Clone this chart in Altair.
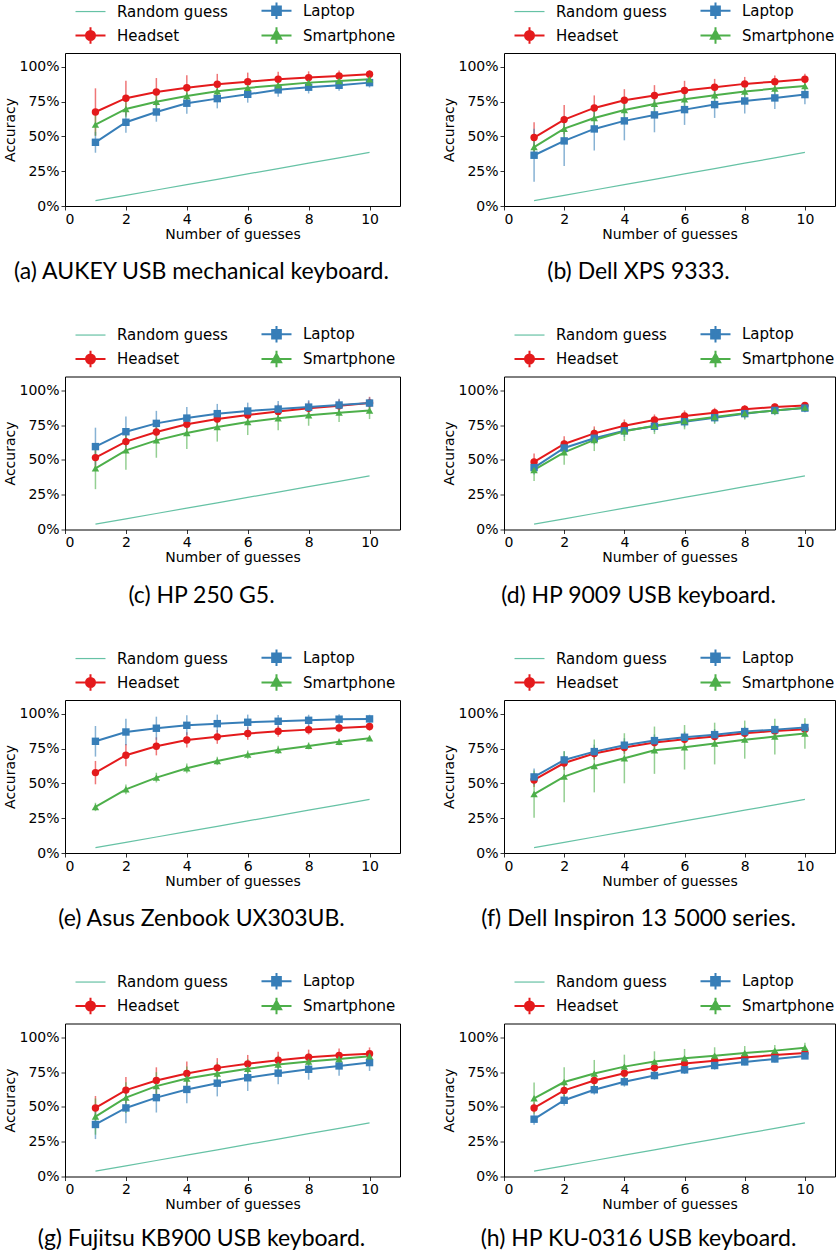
import altair as alt
import pandas as pd

guesses = [1, 2, 3, 4, 5, 6, 7, 8, 9, 10]
random_guess = [3.8, 7.7, 11.5, 15.4, 19.2, 23.1, 26.9, 30.8, 34.6, 38.5]

captions = [
    "(a) AUKEY USB mechanical keyboard.",
    "(b) Dell XPS 9333.",
    "(c) HP 250 G5.",
    "(d) HP 9009 USB keyboard.",
    "(e) Asus Zenbook UX303UB.",
    "(f) Dell Inspiron 13 5000 series.",
    "(g) Fujitsu KB900 USB keyboard.",
    "(h) HP KU-0316 USB keyboard.",
]

headset_mean = [
    [67.6, 77.5, 82.0, 85.0, 87.5, 89.4, 91.1, 92.3, 93.5, 94.7],
    [49.2, 62.1, 70.5, 76.0, 79.4, 83.0, 85.4, 87.8, 89.4, 91.1],
    [51.7, 63.2, 70.1, 75.6, 79.4, 82.3, 84.9, 87.1, 89.0, 90.9],
    [48.6, 61.5, 69.1, 74.6, 78.7, 81.6, 84.0, 86.4, 88.1, 89.2],
    [57.8, 70.3, 76.7, 81.3, 83.5, 85.9, 87.5, 88.7, 89.9, 90.9],
    [52.5, 64.7, 71.5, 75.8, 79.4, 81.8, 83.7, 86.1, 87.8, 89.0],
    [49.3, 62.1, 69.0, 74.0, 78.1, 81.0, 83.6, 85.7, 87.1, 88.3],
    [49.3, 61.9, 69.0, 74.3, 78.1, 81.2, 83.3, 85.5, 87.4, 88.8],
]
headset_err = [
    [17, 12.5, 10, 9, 7.5, 6.5, 5.5, 4.5, 4, 3],
    [11, 10.5, 9, 8, 7.5, 7, 6, 5, 4.5, 4],
    [8, 7, 7, 6, 6, 5, 5, 5, 4.5, 4.5],
    [6, 5.5, 5, 4.5, 4, 4, 3.5, 3, 2.5, 2.5],
    [8.4, 8, 6.5, 5.5, 5, 4.5, 4, 3.5, 3, 3],
    [5, 5, 4.5, 4.5, 4, 4, 3.5, 3.5, 3, 3],
    [8.6, 9.5, 9.5, 8.6, 7, 6.4, 6, 5.5, 5, 4.5],
    [4, 4, 4, 4, 3.5, 3.5, 3, 3, 2.5, 2.5],
]
laptop_mean = [
    [45.8, 60.2, 67.6, 73.9, 77.2, 80.3, 83.5, 85.4, 86.8, 88.7],
    [36.5, 46.8, 55.4, 61.2, 65.5, 69.3, 72.9, 75.5, 77.7, 80.1],
    [59.6, 70.3, 76.3, 80.1, 83.3, 85.2, 86.6, 88.0, 89.5, 90.9],
    [44.5, 58.6, 65.6, 71.0, 74.2, 77.5, 80.4, 83.3, 85.6, 87.3],
    [80.3, 87.0, 89.7, 91.8, 93.0, 94.0, 94.7, 95.4, 96.2, 96.4],
    [54.7, 66.9, 72.9, 77.5, 80.8, 83.2, 85.1, 87.3, 88.7, 90.2],
    [37.4, 49.3, 56.7, 62.6, 67.1, 71.0, 74.3, 77.1, 79.5, 81.9],
    [41.2, 54.8, 62.4, 68.1, 72.6, 76.7, 79.8, 82.4, 84.5, 86.7],
]
laptop_err = [
    [7.5, 7.5, 7, 7.5, 7, 6, 5, 4.5, 4, 3.5],
    [19, 18, 15.5, 14, 12.5, 11, 9.6, 9, 8, 7],
    [13.6, 11, 9, 8, 7, 6, 5.7, 5, 4.5, 4],
    [5, 5, 4.5, 4.5, 4, 4, 3.5, 3.5, 3, 3],
    [11, 9.6, 8.3, 7.2, 6.5, 5.5, 4.5, 4, 3.5, 3],
    [6, 6, 5, 5, 4.5, 4, 4, 3.5, 3, 3],
    [10.5, 11, 10.7, 10, 9.5, 9.5, 8, 7.5, 7, 6],
    [4, 4, 3.5, 3.5, 3, 3, 3, 2.5, 2.5, 2],
]
smartphone_mean = [
    [58.5, 69.8, 75.0, 79.1, 82.5, 84.9, 86.8, 88.7, 89.9, 91.1],
    [42.4, 55.6, 63.3, 69.0, 73.4, 76.7, 79.6, 82.3, 84.4, 86.3],
    [44.0, 56.9, 64.1, 69.4, 73.7, 77.3, 79.9, 82.1, 84.0, 85.6],
    [42.8, 55.5, 64.4, 70.6, 74.6, 78.0, 80.9, 83.5, 85.6, 87.6],
    [33.1, 45.8, 54.2, 60.9, 66.2, 70.7, 74.1, 77.0, 79.9, 82.5],
    [42.4, 54.9, 62.6, 68.1, 73.9, 76.0, 78.7, 81.5, 83.7, 85.9],
    [43.1, 56.7, 65.0, 70.5, 74.0, 77.4, 80.5, 82.6, 84.5, 86.4],
    [56.2, 67.9, 74.0, 79.0, 82.6, 85.0, 86.9, 88.8, 90.5, 92.6],
]
smartphone_err = [
    [8, 6, 6, 5, 5, 4.5, 4, 3.5, 3, 3],
    [8, 7, 7, 6, 6, 5, 5, 4, 4, 3.5],
    [15, 14, 12.5, 11.5, 10.5, 9.4, 8.6, 7.5, 6.7, 6.2],
    [8, 9, 8, 7, 6, 6, 5, 4.5, 3.5, 3],
    [3, 3.5, 3.5, 3.5, 3, 3, 3, 2.5, 2.5, 2],
    [17, 18.5, 19, 18, 17, 16, 15, 13.7, 12.8, 11],
    [13, 11, 10, 8.5, 8, 7, 6.5, 6, 5, 4.5],
    [11.4, 10.7, 9.8, 8.6, 7.4, 6.7, 6, 5, 4, 3.5],
]

x_ticks = [0, 2, 4, 6, 8, 10]
y_ticks = [0.0, 0.25, 0.5, 0.75, 1.0]

series_order = ["Random guess", "Headset", "Laptop", "Smartphone"]
series_colors = ["#66c2a5", "#e41a1c", "#377eb8", "#4daf4a"]

FONT = "DejaVu Sans"

shape_expr = (
    "datum.value === 'Random guess' ? 'M0,-0.6M0,0.6M-1,0H1' : "
    "datum.value === 'Headset' ? 'M0,-0.6M0,0.6M-1,0H1M0,-0.55V0.55M0.3,0A0.3,0.3,0,1,1,-0.3,0A0.3,0.3,0,1,1,0.3,0Z' : "
    "datum.value === 'Laptop' ? 'M0,-0.6M0,0.6M-1,0H1M0,-0.55V0.55M-0.29,-0.29H0.29V0.29H-0.29Z' : "
    "'M0,-0.6M0,0.6M-1,0H1M0,-0.55V0.55M0,-0.34L0.31,0.22H-0.31Z'"
)
fill_expr = (
    "datum.value === 'Headset' ? '#e41a1c' : datum.value === 'Laptop' ? '#377eb8' : "
    "datum.value === 'Smartphone' ? '#4daf4a' : 'transparent'"
)
stroke_expr = (
    "datum.value === 'Headset' ? '#e41a1c' : datum.value === 'Laptop' ? '#377eb8' : "
    "datum.value === 'Smartphone' ? '#4daf4a' : '#66c2a5'"
)
sw_expr = "datum.value === 'Random guess' ? 1.2 : 2"


def panel_df(i):
    rows = []
    for k, g in enumerate(guesses):
        rows.append({"series": "Random guess", "x": g, "y": random_guess[k] / 100,
                     "lo": None, "hi": None})
    for name, m, e in [("Headset", headset_mean, headset_err),
                       ("Laptop", laptop_mean, laptop_err),
                       ("Smartphone", smartphone_mean, smartphone_err)]:
        for k, g in enumerate(guesses):
            rows.append({"series": name, "x": g, "y": m[i][k] / 100,
                         "lo": (m[i][k] - e[i][k]) / 100,
                         "hi": min(m[i][k] + e[i][k], 100) / 100})
    return pd.DataFrame(rows)


def make_panel(i, width, cap_offset):
    df = panel_df(i)
    base = alt.Chart(df)
    xscale = alt.Scale(domain=[0, 11], nice=False)
    yscale = alt.Scale(domain=[0, 1.1], nice=False)
    xaxis = alt.Axis(values=x_ticks, title="Number of guesses", titlePadding=1,
                     labelOverlap=False)
    yaxis = alt.Axis(values=y_ticks, format=".0%", title="Accuracy", titlePadding=1,
                     labelOverlap=False)
    xenc = alt.X("x:Q", scale=xscale, axis=xaxis)
    yenc = alt.Y("y:Q", scale=yscale, axis=yaxis)
    legend = alt.Legend(
        title=None, orient="none", legendX=18, legendY=-50, columns=2,
        columnPadding=29, rowPadding=-2, symbolSize=900, labelOffset=19,
        padding=0, offset=0,
        labelFont=FONT, labelFontSize=15, labelColor="black",
        symbolType=alt.ExprRef(shape_expr),
        symbolFillColor=alt.ExprRef(fill_expr),
        symbolStrokeColor=alt.ExprRef(stroke_expr),
        symbolStrokeWidth=alt.ExprRef(sw_expr),
        symbolOpacity=1,
    )
    cscale = alt.Scale(domain=series_order, range=series_colors)
    color_leg = alt.Color("series:N", scale=cscale, legend=legend)
    color = alt.Color("series:N", scale=cscale)

    rg = base.transform_filter(alt.datum.series == "Random guess").mark_line(
        strokeWidth=1.2).encode(x=xenc, y=yenc, color=color)
    main = base.transform_filter(alt.datum.series != "Random guess")
    err = main.mark_rule(strokeWidth=1.5, strokeOpacity=0.6).encode(
        x=xenc, y=alt.Y("lo:Q", scale=yscale, axis=yaxis), y2="hi:Q", color=color)
    lines = main.mark_line(strokeWidth=2).encode(x=xenc, y=yenc, color=color,
                                                 detail="series:N")
    pts = main.mark_point(filled=True, opacity=1, size=55).encode(
        x=xenc, y=yenc, color=color_leg,
        shape=alt.Shape("series:N", scale=alt.Scale(
            domain=["Headset", "Laptop", "Smartphone"],
            range=["circle", "square", "triangle-up"]), legend=None))
    return alt.layer(rg, err, lines, pts).properties(
        width=width, height=153,
        title=alt.TitleParams(text=captions[i], orient="bottom", anchor="middle",
                              frame="group", dx=-31, offset=cap_offset, font="Lato",
                              fontSize=23, fontWeight="normal", color="black"),
    )


cap_offsets = [20, 20, 20, 16]
rows = []
for r in range(4):
    left = make_panel(2 * r, 335, cap_offsets[r])
    right = make_panel(2 * r + 1, 331, cap_offsets[r])
    rows.append(alt.hconcat(left, right, spacing=41).resolve_scale(
        color="independent", shape="independent").resolve_legend(
        color="independent", shape="independent"))

chart = alt.vconcat(*rows, spacing=40.5).resolve_scale(
    color="independent", shape="independent").resolve_legend(
    color="independent", shape="independent").properties(
    padding={"left": 3, "top": 2, "right": 0, "bottom": 0}
).configure_view(stroke="black", strokeWidth=1).configure_axis(
    domain=False, grid=False, labelFont=FONT, labelFontSize=14, labelColor="black",
    titleFont=FONT, titleFontSize=14, titleFontWeight="normal", titleColor="black",
    tickColor="black", tickSize=4, tickWidth=0.8, labelPadding=2,
)

chart.save("out.html", embed_options={"renderer": "svg", "actions": False})
